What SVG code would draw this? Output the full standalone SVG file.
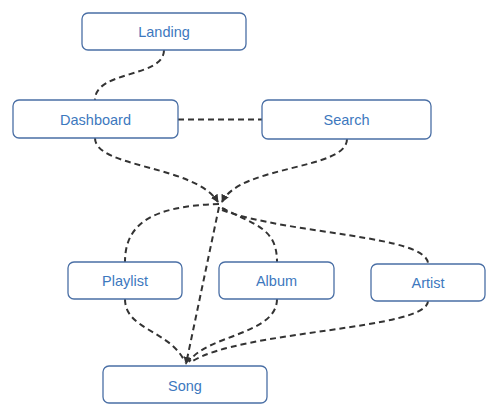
<svg xmlns="http://www.w3.org/2000/svg" width="500" height="409" viewBox="0 0 500 409">
<style>
.node rect{fill:#fff;stroke:#4a6fa5;stroke-width:1.3}
.node text{font-family:"Liberation Sans",Arial,sans-serif;font-size:14.5px;fill:#3d78be;text-anchor:middle;dominant-baseline:central}
.edge{fill:none;stroke:#333;stroke-width:2;stroke-dasharray:6,4}
</style>
<defs>
<marker id="arr" viewBox="0 0 10 10" refX="9" refY="5" markerWidth="4" markerHeight="4" orient="auto-start-reverse">
<path d="M0,0 L10,5 L0,10 z" fill="#333"/>
</marker>
</defs>
<g id="connectors">
<path class="edge" d="M164,50 C164,78 95,70 95,100"/>
<path class="edge" d="M178,119.5 L262,119.5"/>
<path class="edge" d="M95,138 C95,168 195,165 218,202" marker-end="url(#arr)"/>
<path class="edge" d="M347,139 C347,170 240,165 222,202" marker-end="url(#arr)"/>
<path class="edge" d="M219,204 C150,206 125,225 125,262"/>
<path class="edge" d="M219,207 L186,364" marker-end="url(#arr)"/>
<path class="edge" d="M222,208 C255,225 277,228 277,262"/>
<path class="edge" d="M222,210 C290,235 428,235 428,264"/>
<path class="edge" d="M125,299 C125,330 170,330 185,362"/>
<path class="edge" d="M277,299 C277,335 205,335 189,362"/>
<path class="edge" d="M428,301 C428,330 240,330 191,362"/>
</g>
<g id="landing" class="node"><rect x="82" y="13" width="164" height="37" rx="6"/><text x="164" y="32">Landing</text></g>
<g id="dashboard" class="node"><rect x="13" y="100" width="165" height="38" rx="6"/><text x="95.5" y="120">Dashboard</text></g>
<g id="search" class="node"><rect x="262" y="100" width="169" height="39" rx="6"/><text x="346.5" y="120">Search</text></g>
<g id="playlist" class="node"><rect x="68" y="262" width="114" height="37" rx="6"/><text x="125" y="281">Playlist</text></g>
<g id="album" class="node"><rect x="219" y="262" width="115" height="37" rx="6"/><text x="276.5" y="281">Album</text></g>
<g id="artist" class="node"><rect x="371" y="264" width="114" height="37" rx="6"/><text x="428" y="283">Artist</text></g>
<g id="song" class="node"><rect x="103" y="366" width="164" height="37" rx="6"/><text x="185" y="386">Song</text></g>
</svg>
